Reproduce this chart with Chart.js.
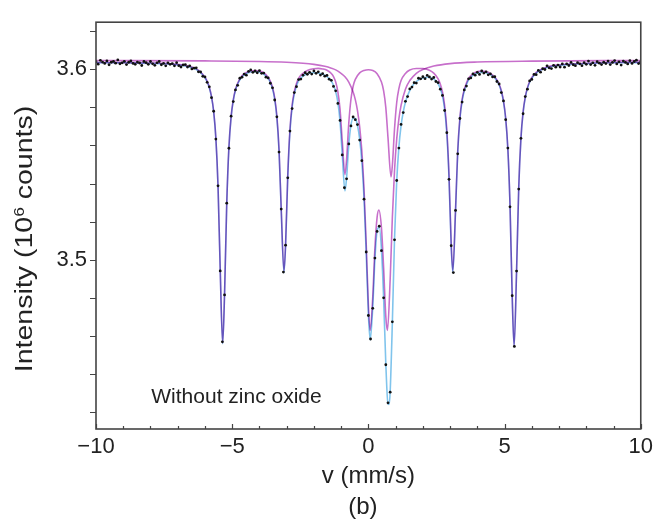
<!DOCTYPE html>
<html>
<head>
<meta charset="utf-8">
<script src="https://cdn.jsdelivr.net/npm/chart.js@4.4.1/dist/chart.umd.min.js"></script>
<style>
  html, body { margin: 0; padding: 0; background: #fff; }
  #wrap { width: 658px; height: 520px; }
</style>
</head>
<body>
<div id="wrap"><canvas id="spectrum" width="658" height="520"></canvas></div>
<script>
// Measured spectrum: channel velocity (mm/s) and intensity (10^6 counts)
const velocity = [
  -10,-9.92,-9.84,-9.76,-9.68,-9.6,-9.52,-9.44,-9.36,-9.28,
  -9.2,-9.12,-9.04,-8.96,-8.88,-8.8,-8.72,-8.64,-8.56,-8.48,
  -8.4,-8.32,-8.24,-8.16,-8.08,-8,-7.92,-7.84,-7.76,-7.68,
  -7.6,-7.52,-7.44,-7.36,-7.28,-7.2,-7.12,-7.04,-6.96,-6.88,
  -6.8,-6.72,-6.64,-6.56,-6.48,-6.4,-6.32,-6.24,-6.16,-6.08,
  -6,-5.92,-5.84,-5.76,-5.68,-5.6,-5.52,-5.44,-5.36,-5.28,
  -5.2,-5.12,-5.04,-4.96,-4.88,-4.8,-4.72,-4.64,-4.56,-4.48,
  -4.4,-4.32,-4.24,-4.16,-4.08,-4,-3.92,-3.84,-3.76,-3.68,
  -3.6,-3.52,-3.44,-3.36,-3.28,-3.2,-3.12,-3.04,-2.96,-2.88,
  -2.8,-2.72,-2.64,-2.56,-2.48,-2.4,-2.32,-2.24,-2.16,-2.08,
  -2,-1.92,-1.84,-1.76,-1.68,-1.6,-1.52,-1.44,-1.36,-1.28,
  -1.2,-1.12,-1.04,-0.96,-0.88,-0.8,-0.72,-0.64,-0.56,-0.48,
  -0.4,-0.32,-0.24,-0.16,-0.08,0,0.08,0.16,0.24,0.32,
  0.4,0.48,0.56,0.64,0.72,0.8,0.88,0.96,1.04,1.12,
  1.2,1.28,1.36,1.44,1.52,1.6,1.68,1.76,1.84,1.92,
  2,2.08,2.16,2.24,2.32,2.4,2.48,2.56,2.64,2.72,
  2.8,2.88,2.96,3.04,3.12,3.2,3.28,3.36,3.44,3.52,
  3.6,3.68,3.76,3.84,3.92,4,4.08,4.16,4.24,4.32,
  4.4,4.48,4.56,4.64,4.72,4.8,4.88,4.96,5.04,5.12,
  5.2,5.28,5.36,5.44,5.52,5.6,5.68,5.76,5.84,5.92,
  6,6.08,6.16,6.24,6.32,6.4,6.48,6.56,6.64,6.72,
  6.8,6.88,6.96,7.04,7.12,7.2,7.28,7.36,7.44,7.52,
  7.6,7.68,7.76,7.84,7.92,8,8.08,8.16,8.24,8.32,
  8.4,8.48,8.56,8.64,8.72,8.8,8.88,8.96,9.04,9.12,
  9.2,9.28,9.36,9.44,9.52,9.6,9.68,9.76,9.84,9.92,10
];
const counts = [
  3.6039,3.6026,3.6046,3.6037,3.6030,3.6043,3.6023,3.6036,3.6041,3.6031,
  3.6048,3.6028,3.6033,3.6041,3.6024,3.6036,3.6043,3.6030,3.6025,3.6037,
  3.6032,3.6019,3.6040,3.6034,3.6025,3.6040,3.6028,3.6020,3.6033,3.6040,
  3.6023,3.6030,3.6017,3.6033,3.6025,3.6029,3.6017,3.6034,3.6018,3.6011,
  3.6022,3.6024,3.6011,3.6017,3.6001,3.6005,3.6007,3.5986,3.5985,3.5962,
  3.5959,3.5931,3.5907,3.5850,3.5779,3.5633,3.5388,3.4942,3.4570,3.4816,
  3.5297,3.5585,3.5753,3.5830,3.5891,3.5915,3.5952,3.5958,3.5974,3.5968,
  3.5988,3.5996,3.5983,3.5990,3.5981,3.5992,3.5978,3.5979,3.5958,3.5954,
  3.5926,3.5902,3.5838,3.5750,3.5565,3.5266,3.4936,3.5077,3.5430,3.5675,
  3.5793,3.5877,3.5908,3.5945,3.5948,3.5968,3.5981,3.5973,3.5983,3.5974,
  3.5990,3.5978,3.5986,3.5969,3.5976,3.5963,3.5967,3.5947,3.5941,3.5909,
  3.5886,3.5820,3.5731,3.5550,3.5378,3.5425,3.5608,3.5702,3.5749,3.5735,
  3.5709,3.5628,3.5520,3.5318,3.5041,3.4708,3.4585,3.4746,3.5009,3.5149,
  3.5176,3.5048,3.4801,3.4450,3.4250,3.4306,3.4675,3.5105,3.5416,3.5586,
  3.5710,3.5772,3.5831,3.5856,3.5896,3.5906,3.5929,3.5927,3.5952,3.5949,
  3.5960,3.5950,3.5967,3.5959,3.5948,3.5956,3.5935,3.5929,3.5895,3.5862,
  3.5783,3.5667,3.5422,3.5074,3.4933,3.5259,3.5556,3.5741,3.5827,3.5891,
  3.5911,3.5949,3.5954,3.5975,3.5968,3.5983,3.5972,3.5990,3.5979,3.5986,
  3.5970,3.5975,3.5959,3.5960,3.5935,3.5922,3.5877,3.5833,3.5735,3.5586,
  3.5278,3.4812,3.4546,3.4941,3.5371,3.5637,3.5766,3.5856,3.5895,3.5938,
  3.5946,3.5972,3.5971,3.5993,3.5984,3.6002,3.5998,3.6017,3.6006,3.6003,
  3.6020,3.6010,3.6021,3.6011,3.6027,3.6010,3.6027,3.6019,3.6035,3.6023,
  3.6018,3.6034,3.6028,3.6018,3.6034,3.6025,3.6042,3.6024,3.6033,3.6020,
  3.6039,3.6031,3.6024,3.6036,3.6029,3.6042,3.6024,3.6035,3.6045,3.6027,
  3.6038,3.6021,3.6042,3.6035,3.6027,3.6044,3.6030,3.6040,3.6047,3.6029,3.6039
];

// Total fit curve
const fitTotalV = [
  -10,-9,-8,-7.5,-7.04,-6.72,-6.48,-6.32,-6.16,-6,-5.92,-5.84,-5.76,-5.68,-5.6,-5.52,-5.44,-5.35,-5.28,-5.2,
  -5.12,-5.04,-4.96,-4.88,-4.8,-4.64,-4.48,-4.32,-4.16,-4,-3.84,-3.68,-3.6,-3.52,-3.44,-3.36,-3.28,-3.2,-3.1,-3.04,
  -2.96,-2.88,-2.8,-2.72,-2.64,-2.56,-2.4,-2.24,-2,-1.84,-1.68,-1.52,-1.36,-1.28,-1.2,-1.12,-1.04,-0.96,-0.86,-0.8,
  -0.72,-0.64,-0.56,-0.48,-0.4,-0.32,-0.24,-0.16,-0.08,0,0.065,0.16,0.24,0.32,0.4,0.48,0.56,0.64,0.72,0.76,
  0.8,0.88,0.96,1.04,1.12,1.2,1.28,1.36,1.44,1.6,1.76,2,2.16,2.32,2.48,2.56,2.64,2.72,2.8,2.88,
  2.96,3.04,3.1,3.2,3.28,3.36,3.44,3.52,3.6,3.68,3.84,4,4.16,4.32,4.48,4.64,4.72,4.8,4.88,4.96,
  5.04,5.12,5.2,5.28,5.35,5.44,5.52,5.6,5.68,5.76,5.84,5.92,6,6.16,6.32,6.48,6.72,7.04,7.5,8,9,10
];
const fitTotalY = [
  3.6034,3.6033,3.6030,3.6028,3.6023,3.6016,3.6008,3.5998,3.5982,3.5955,3.5934,3.5902,3.5854,3.5776,3.5638,3.5384,3.4948,3.4560,3.4820,3.5292,
  3.5588,3.5747,3.5835,3.5889,3.5922,3.5960,3.5977,3.5985,3.5987,3.5984,3.5974,3.5950,3.5929,3.5897,3.5842,3.5746,3.5570,3.5260,3.4932,3.5072,
  3.5433,3.5671,3.5799,3.5870,3.5912,3.5939,3.5963,3.5976,3.5981,3.5980,3.5973,3.5960,3.5936,3.5915,3.5882,3.5825,3.5725,3.5554,3.5361,3.5430,
  3.5602,3.5706,3.5744,3.5741,3.5705,3.5633,3.5514,3.5322,3.5036,3.4714,3.4580,3.4751,3.5003,3.5153,3.5171,3.5054,3.4797,3.4455,3.4244,3.4242,
  3.4310,3.4670,3.5111,3.5412,3.5591,3.5704,3.5776,3.5826,3.5862,3.5909,3.5935,3.5954,3.5957,3.5953,3.5939,3.5923,3.5898,3.5858,3.5788,3.5661,
  3.5426,3.5069,3.4932,3.5255,3.5562,3.5736,3.5831,3.5885,3.5918,3.5944,3.5967,3.5979,3.5983,3.5981,3.5972,3.5954,3.5939,3.5917,3.5883,3.5829,
  3.5740,3.5580,3.5282,3.4807,3.4545,3.4935,3.5376,3.5633,3.5772,3.5851,3.5899,3.5931,3.5952,3.5979,3.5994,3.6004,3.6014,3.6020,3.6026,3.6029,3.6033,3.6034
];

// Sextet sub-spectrum
const fitSextetV = [
  -10,-9,-8,-7.5,-7.04,-6.72,-6.48,-6.32,-6.16,-6,-5.92,-5.84,-5.76,-5.68,-5.6,-5.52,-5.44,-5.35,-5.28,-5.2,
  -5.12,-5.04,-4.96,-4.88,-4.8,-4.64,-4.48,-4.32,-4.16,-4,-3.84,-3.68,-3.6,-3.52,-3.44,-3.36,-3.28,-3.2,-3.1,-3.04,
  -2.96,-2.88,-2.8,-2.72,-2.64,-2.56,-2.4,-2.24,-2,-1.84,-1.68,-1.52,-1.36,-1.28,-1.2,-1.12,-1.04,-0.96,-0.86,-0.8,
  -0.72,-0.64,-0.56,-0.48,-0.32,-0.16,0,0.16,0.32,0.48,0.56,0.64,0.72,0.83,0.88,0.96,1.04,1.12,1.2,1.36,
  1.52,1.76,2,2.24,2.4,2.56,2.64,2.72,2.8,2.88,2.96,3.04,3.1,3.2,3.28,3.36,3.44,3.52,3.6,3.68,
  3.84,4,4.16,4.32,4.48,4.64,4.72,4.8,4.88,4.96,5.04,5.12,5.2,5.28,5.35,5.44,5.52,5.6,5.68,5.76,
  5.84,5.92,6,6.16,6.32,6.48,6.72,7.04,7.5,8,9,10
];
const fitSextetY = [
  3.6035,3.6034,3.6032,3.6030,3.6025,3.6019,3.6011,3.6001,3.5985,3.5958,3.5937,3.5905,3.5857,3.5779,3.5641,3.5387,3.4952,3.4564,3.4824,3.5296,
  3.5592,3.5751,3.5839,3.5893,3.5926,3.5965,3.5982,3.5990,3.5993,3.5990,3.5981,3.5957,3.5937,3.5905,3.5850,3.5755,3.5579,3.5269,3.4941,3.5082,
  3.5444,3.5682,3.5811,3.5882,3.5925,3.5953,3.5978,3.5993,3.6002,3.6004,3.6001,3.5994,3.5977,3.5961,3.5932,3.5881,3.5789,3.5626,3.5447,3.5527,
  3.5716,3.5842,3.5910,3.5946,3.5980,3.5993,3.5997,3.5993,3.5976,3.5932,3.5886,3.5798,3.5641,3.5435,3.5494,3.5687,3.5825,3.5898,3.5940,3.5977,
  3.5995,3.6003,3.6003,3.5994,3.5979,3.5949,3.5922,3.5880,3.5809,3.5681,3.5446,3.5088,3.4943,3.5265,3.5572,3.5746,3.5840,3.5894,3.5927,3.5953,
  3.5975,3.5987,3.5990,3.5988,3.5978,3.5959,3.5944,3.5922,3.5888,3.5834,3.5745,3.5585,3.5287,3.4811,3.4549,3.4939,3.5380,3.5637,3.5776,3.5855,
  3.5903,3.5935,3.5956,3.5983,3.5997,3.6007,3.6017,3.6023,3.6028,3.6031,3.6035,3.6036
];

// Doublet sub-spectrum
const fitDoubletV = [
  -10,-6,-4,-3,-2.4,-2,-1.6,-1.36,-1.2,-1.04,-0.86,-0.72,-0.56,-0.48,-0.4,-0.32,-0.24,-0.16,-0.08,0,
  0.065,0.16,0.24,0.32,0.385,0.48,0.56,0.64,0.7,0.8,0.88,0.96,1.04,1.12,1.2,1.36,1.52,1.76,2,2.4,
  3,4,6,10
];
const fitDoubletY = [
  3.6045,3.6043,3.6040,3.6036,3.6031,3.6025,3.6015,3.6005,3.5996,3.5982,3.5960,3.5932,3.5880,3.5840,3.5783,3.5698,3.5570,3.5373,3.5086,3.4763,
  3.4630,3.4804,3.5063,3.5223,3.5261,3.5168,3.4957,3.4703,3.4630,3.4898,3.5222,3.5470,3.5633,3.5739,3.5810,3.5895,3.5940,3.5978,3.5998,3.6016,
  3.6029,3.6037,3.6042,3.6045
];

const xMajorTicks = [-10, -5, 0, 5, 10];
const xMinorTicks = [-9, -8, -7, -6, -4, -3, -2, -1, 1, 2, 3, 4, 6, 7, 8, 9];
const yTicks = [3.42, 3.44, 3.46, 3.48, 3.5, 3.52, 3.54, 3.56, 3.58, 3.6, 3.62];
const yLabelled = [3.5, 3.6];

const xTitle = 'v (mm/s)';
const yTitle = ['Intensity (10', '6', ' counts)'];
const caption = '(b)';
const note = 'Without zinc oxide';

const FONT = "'Liberation Sans', Arial, Helvetica, sans-serif";
const TEXT = '#222';
const AXIS = '#444';
const CYAN = '#80c4ec';
const MAGENTA = '#c76fcb';

const toPoints = (xs, ys) => xs.map((x, i) => ({ x: x, y: ys[i] }));

const decorations = {
    id: 'decorations',
    beforeDatasetDraw(chart, args) {
        if (chart.data.datasets[args.index].blend) chart.ctx.globalCompositeOperation = 'multiply';
    },
    afterDatasetDraw(chart) {
        chart.ctx.globalCompositeOperation = 'source-over';
    },
    afterDraw(chart) {
        const { ctx, chartArea: a, scales: { x, y } } = chart;
        ctx.save();

        // tick marks: y outward, x inward
        ctx.strokeStyle = AXIS;
        ctx.lineWidth = 1.2;
        ctx.beginPath();
        yTicks.forEach(v => {
            const py = Math.round(y.getPixelForValue(v)) + 0.5;
            ctx.moveTo(a.left - 6, py);
            ctx.lineTo(a.left, py);
        });
        xMinorTicks.forEach(v => {
            const px = Math.round(x.getPixelForValue(v)) + 0.5;
            ctx.moveTo(px, a.bottom);
            ctx.lineTo(px, a.bottom - 3);
        });
        xMajorTicks.forEach(v => {
            const px = Math.round(x.getPixelForValue(v)) + 0.5;
            ctx.moveTo(px, a.bottom);
            ctx.lineTo(px, a.bottom - 5);
        });
        ctx.stroke();

        // frame
        ctx.lineWidth = 1.6;
        ctx.strokeRect(a.left, a.top, a.right - a.left, a.bottom - a.top);

        ctx.fillStyle = TEXT;
        ctx.textBaseline = 'middle';

        // x title and caption
        ctx.textAlign = 'center';
        ctx.font = '24px ' + FONT;
        ctx.fillText(xTitle, (a.left + a.right) / 2, 476);
        ctx.fillText(caption, x.getPixelForValue(-0.2), 507);

        // annotation inside the plot
        ctx.textAlign = 'left';
        ctx.font = '21px ' + FONT;
        ctx.fillText(note, x.getPixelForValue(-7.97), y.getPixelForValue(3.4282));

        // y title with superscript
        ctx.translate(26, 239);
        ctx.rotate(-Math.PI / 2);
        ctx.scale(1.24, 1);
        const mainFont = '23px ' + FONT;
        const supFont = '14px ' + FONT;
        ctx.font = mainFont;
        const w1 = ctx.measureText(yTitle[0]).width;
        const w3 = ctx.measureText(yTitle[2]).width;
        ctx.font = supFont;
        const w2 = ctx.measureText(yTitle[1]).width;
        let px = -(w1 + w2 + w3) / 2;
        ctx.font = mainFont;
        ctx.fillText(yTitle[0], px, 0);
        px += w1;
        ctx.font = supFont;
        ctx.fillText(yTitle[1], px, -6);
        px += w2;
        ctx.font = mainFont;
        ctx.fillText(yTitle[2], px, 0);

        ctx.restore();
    }
};

new Chart(document.getElementById('spectrum').getContext('2d'), {
    type: 'line',
    data: {
        datasets: [
            {
                label: 'Measured',
                data: toPoints(velocity, counts),
                showLine: false,
                pointRadius: 1.4,
                pointBorderWidth: 0,
                pointBackgroundColor: '#111',
                order: 0
            },
            {
                label: 'Sextet',
                data: toPoints(fitSextetV, fitSextetY),
                borderColor: MAGENTA,
                borderWidth: 1.6,
                pointRadius: 0,
                cubicInterpolationMode: 'monotone',
                blend: true,
                order: 1
            },
            {
                label: 'Doublet',
                data: toPoints(fitDoubletV, fitDoubletY),
                borderColor: MAGENTA,
                borderWidth: 1.6,
                pointRadius: 0,
                cubicInterpolationMode: 'monotone',
                blend: true,
                order: 2
            },
            {
                label: 'Total fit',
                data: toPoints(fitTotalV, fitTotalY),
                borderColor: CYAN,
                borderWidth: 1.6,
                pointRadius: 0,
                cubicInterpolationMode: 'monotone',
                order: 3
            }
        ]
    },
    options: {
        responsive: false,
        animation: false,
        devicePixelRatio: 1,
        events: [],
        layout: { padding: { top: 13, right: 11, left: 0, bottom: 0 } },
        plugins: {
            legend: { display: false },
            tooltip: { enabled: false }
        },
        scales: {
            x: {
                type: 'linear',
                min: -10,
                max: 10,
                grid: { display: false, drawTicks: false },
                border: { display: false },
                afterBuildTicks: s => { s.ticks = xMajorTicks.map(v => ({ value: v })); },
                afterFit: s => { s.height = 91; },
                ticks: {
                    autoSkip: false,
                    maxRotation: 0,
                    padding: 5,
                    color: TEXT,
                    font: { family: FONT, size: 22 },
                    callback: v => (v < 0 ? '\u2212' + Math.abs(v) : String(v))
                }
            },
            y: {
                type: 'linear',
                min: 3.4113,
                max: 3.6246,
                grid: { display: false, drawTicks: false },
                border: { display: false },
                afterBuildTicks: s => { s.ticks = yTicks.map(v => ({ value: v })); },
                afterFit: s => { s.width = 96; },
                ticks: {
                    padding: 9,
                    color: TEXT,
                    font: { family: FONT, size: 22 },
                    callback: v => (yLabelled.includes(v) ? v.toFixed(1) : '')
                }
            }
        }
    },
    plugins: [decorations]
});
</script>
</body>
</html>
